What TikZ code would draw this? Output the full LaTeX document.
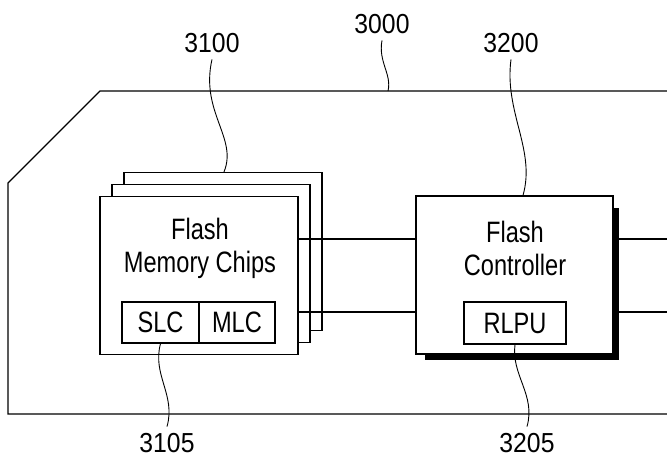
\documentclass[tikz,border=0pt]{standalone}
\usepackage{fontspec}
\setmainfont{Liberation Sans}[FakeStretch=0.8]
\newfontfamily\numfont{Liberation Sans}[FakeStretch=0.9]
\usepackage{tikz}
\usetikzlibrary{calc}

\begin{document}
\begin{tikzpicture}[x=1pt,y=-1pt,
    box/.style={draw,line width=1.3pt,fill=white,inner sep=0pt},
    boxtext/.style={font=\fontsize{29.5}{33}\selectfont,align=center},
    num/.style={font=\numfont\fontsize{27.5}{30}\selectfont,inner xsep=0pt,inner ysep=6.5pt},
    leader/.style={line width=0.9pt}]
        \useasboundingbox (0,0) rectangle (667,463);
        % board outline
        \draw[line width=1.2pt] (667,91) -- (100,91) -- (8,183) -- (8,414) -- (667,414);
        % flash memory chip stack
        \node[box,minimum width=198pt,minimum height=158pt] (chip3) at (223,251.5) {};
        \node[box,minimum width=198pt,minimum height=158pt] (chip2) at (211,263.5) {};
        \node[box,minimum width=198pt,minimum height=158pt] (chip1) at (199,275.5) {};
        \node[boxtext] (chiptext) at (200,248.5) {Flash\\Memory Chips};
        \node[box,minimum width=77pt,minimum height=41pt,font=\fontsize{29.5}{33}\selectfont] (slc) at (160.5,322.5) {SLC};
        \node[box,minimum width=76pt,minimum height=41pt,font=\fontsize{29.5}{33}\selectfont] (mlc) at (237,322.5) {MLC};
        % flash controller with shadow
        \node[box,minimum width=197pt,minimum height=158pt] (ctrl) at (514.5,275) {};
        \fill ($(ctrl.north east)+(0,13)$) rectangle ($(ctrl.south east)+(5,5)$);
        \fill ($(ctrl.south west)+(10,0)$) rectangle ($(ctrl.south east)+(5,5)$);
        \node[boxtext] (ctrltext) at (515,248.5) {Flash\\Controller};
        \node[box,minimum width=102pt,minimum height=42pt,font=\fontsize{29.5}{33}\selectfont] (rlpu) at (515,323) {RLPU};
        % buses
        \coordinate (busA) at (0,239);
        \coordinate (busB) at (0,312);
        \coordinate (edgeA) at (667,239);
        \coordinate (edgeB) at (667,312);
        \draw[line width=1.2pt] (chip1.east |- busA) -- (ctrl.west |- busA);
        \draw[line width=1.2pt] (chip1.east |- busB) -- (ctrl.west |- busB);
        \draw[line width=1.2pt] ($(ctrl.east |- busA)+(5,0)$) -- (edgeA);
        \draw[line width=1.2pt] ($(ctrl.east |- busB)+(5,0)$) -- (edgeB);
        % reference numerals
        \node[num] (l3000) at (382,24) {3000};
        \node[num] (l3100) at (212,43) {3100};
        \node[num] (l3200) at (511,43) {3200};
        \node[num] (l3105) at (167,443) {3105};
        \node[num] (l3205) at (527,443) {3205};
        \coordinate (t3000) at (388,91);
        \draw[leader] (l3000.south) .. controls (378,62) and (392,74) .. (t3000);
        \draw[leader] (l3100.south) .. controls (200,112) and (238,138) .. (chip3.north -| 224,0);
        \draw[leader] (l3200.south) .. controls (504,112) and (536,150) .. (ctrl.north -| 523,0);
        \draw[leader] (slc.south) .. controls (152,375) and (176,395) .. (l3105.north);
        \draw[leader] (rlpu.south) .. controls (511,375) and (536,395) .. (l3205.north);
      \end{tikzpicture}
\end{document}
